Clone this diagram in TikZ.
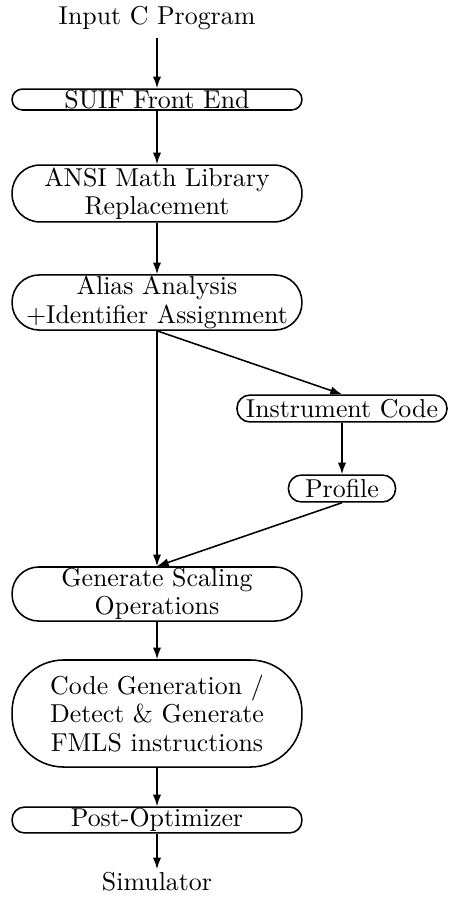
\documentclass[tikz,border=0pt]{standalone}
\usetikzlibrary{arrows.meta}
\begin{document}
\begin{tikzpicture}[x=0.3867pt, y=-0.3867pt, semithick,
	>={Latex[length=4.5pt,width=3.2pt]},
	every node/.style={font=\fontsize{10}{11}\selectfont, align=center, inner sep=0pt},
	box/.style={draw, rounded corners=#1, minimum width=112.1pt}]
	        	\useasboundingbox (0,0) rectangle (450,897);
	        	\node (input) at (157,18) {Input C Program};
	        	\node[box=4pt, minimum height=8.1pt] (suif) at (157,99.5) {SUIF Front End};
	        	\node[box=10.8pt, minimum height=22pt] (ansi) at (157,193.5) {ANSI Math Library\\Replacement};
	        	\node[box=10.5pt, minimum height=21.3pt] (alias) at (157,302.5) {Alias Analysis\\+Identifier Assignment};
	        	\node[box=5pt, minimum height=10.4pt, minimum width=81.2pt] (instr) at (342,408.5) {Instrument Code};
	        	\node[box=5pt, minimum height=10.4pt, minimum width=41.4pt] (profile) at (342,488.5) {Profile};
	        	\node[box=10.3pt, minimum height=20.9pt] (gen) at (157,594) {Generate Scaling\\Operations};
	        	\node[box=20pt, minimum height=41.4pt] (codegen) at (157,713.5) {Code Generation /\\Detect \& Generate\\FMLS instructions};
	        	\node[box=4.8pt, minimum height=10pt] (post) at (157,820) {Post-Optimizer};
	        	\node (sim) at (157,882) {Simulator};
	        	\draw[->] ([yshift=-3pt]input.south) -- (suif);
	        	\draw[->] (suif) -- (ansi);
	        	\draw[->] (ansi) -- (alias);
	        	\draw[->] (alias.south) -- (instr.north);
	        	\draw[->] (instr) -- (profile);
	        	\draw[->] (alias.south) -- (gen.north);
	        	\draw[->] (profile.south) -- (gen.north);
	        	\draw[->] (gen) -- (codegen);
	        	\draw[->] (codegen) -- (post);
	        	\draw[->] (post) -- ([yshift=1pt]sim.north);
        	\end{tikzpicture}
\end{document}
